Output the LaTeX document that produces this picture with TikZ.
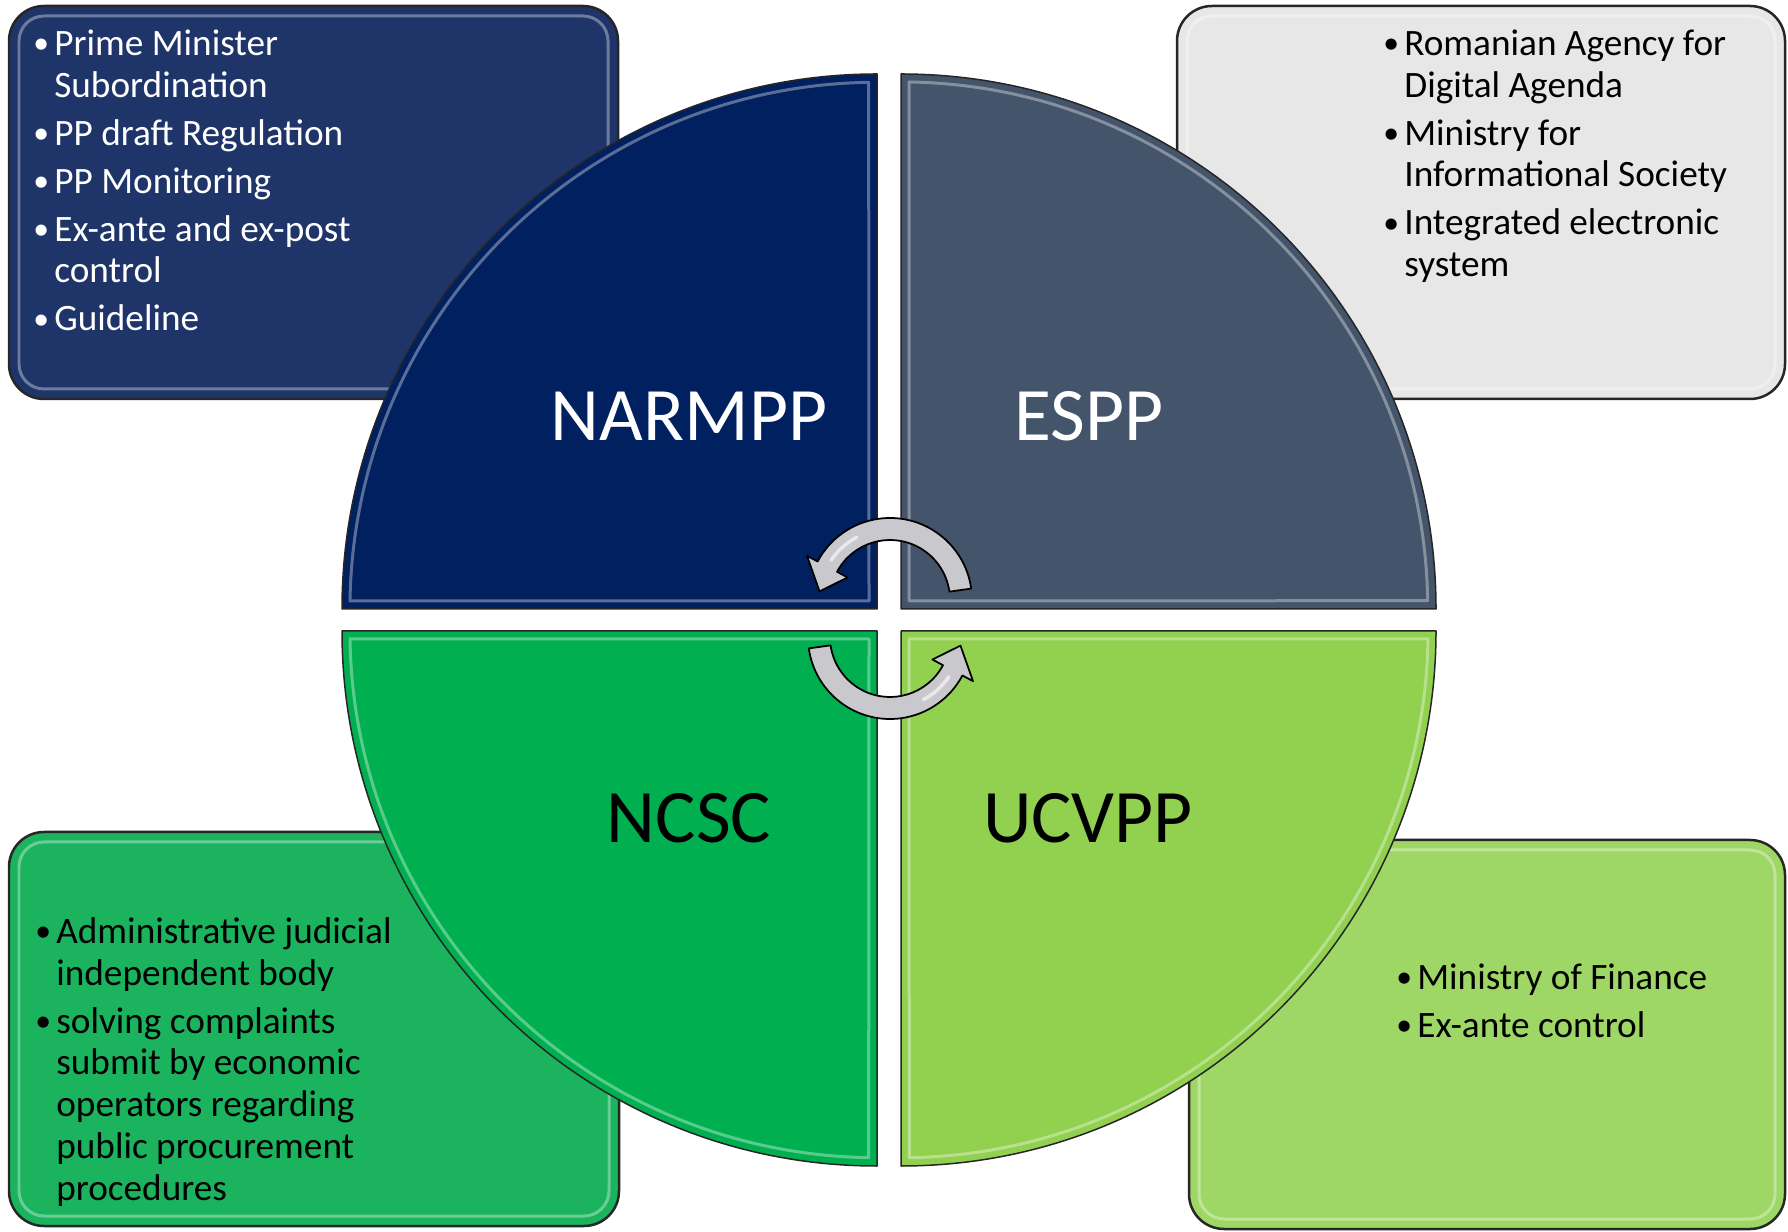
\documentclass[tikz,border=0pt]{standalone}
\usepackage{fontspec}
\setmainfont{Carlito}
\definecolor{navyq}{HTML}{002060}
\definecolor{slateq}{HTML}{44546A}
\definecolor{greenq}{HTML}{00B050}
\definecolor{limeq}{HTML}{92D050}
\definecolor{navybox}{HTML}{1F3569}
\definecolor{greybox}{HTML}{E7E7E7}
\definecolor{greenbox}{HTML}{1BB35E}
\definecolor{limebox}{HTML}{9ED765}
\definecolor{arrowgrey}{HTML}{C9C9CD}
\newcommand{\itm}[1]{\par\hangindent=0.42cm\hangafter=1\noindent\strut\makebox[0.42cm][l]{\raisebox{0.1ex}{\fontsize{18}{18}\selectfont\textbullet}}#1\par}

\begin{document}
\begin{tikzpicture}[x=0.02cm, y=0.02cm, line join=round,
    boxframe/.style={draw=black!85, line width=0.05cm, rounded corners=0.7cm},
    quarter/.style={draw=black!85, line width=0.03cm},
    bevel/.style={draw=white, opacity=0.35, line width=0.06cm},
    boxtext/.style={anchor=north west, inner sep=0pt, text width=8.5cm, align=flush left,
        font=\fontsize{21.2}{23.8}\selectfont\setlength{\parskip}{3.5pt}},
    bigtext/.style={inner sep=0pt, font=\fontsize{43}{50}\selectfont},
    cyclearrow/.style={draw=black, line width=0.035cm, fill=arrowgrey}]

    \useasboundingbox (0,0) rectangle (1788,1231);

    % boxes behind the circle
    \draw[boxframe, fill=navybox] (9,832) rectangle (618,1225);
    \draw[boxframe, fill=greybox] (1177,832) rectangle (1785,1225);
    \draw[boxframe, fill=greenbox] (9,5) rectangle (619,399);
    \draw[boxframe, fill=limebox] (1189,2) rectangle (1785,391);

    \draw[bevel, rounded corners=0.5cm] (19,842) rectangle (608,1215);
    \draw[bevel, rounded corners=0.5cm] (1187,842) rectangle (1775,1215);
    \draw[bevel, rounded corners=0.5cm] (19,15) rectangle (609,389);
    \draw[bevel, rounded corners=0.5cm] (1199,12) rectangle (1775,381);

    % the four quarters
    \draw[quarter, fill=navyq] (877,622) -- (342,622) arc[start angle=180, end angle=90, radius=535] -- cycle;
    \draw[quarter, fill=slateq] (901,622) -- (901,1157) arc[start angle=90, end angle=0, radius=535] -- cycle;
    \draw[quarter, fill=greenq] (877,600) -- (342,600) arc[start angle=180, end angle=270, radius=535] -- cycle;
    \draw[quarter, fill=limeq] (901,600) -- (1436,600) arc[start angle=0, end angle=-90, radius=535] -- cycle;

    \draw[bevel] (869,630) -- (350,630) arc[start angle=179.1, end angle=90.9, radius=527] -- cycle;
    \draw[bevel] (909,630) -- (909,1149) arc[start angle=89.1, end angle=0.9, radius=527] -- cycle;
    \draw[bevel] (869,592) -- (350,592) arc[start angle=180.9, end angle=269.1, radius=527] -- cycle;
    \draw[bevel] (909,592) -- (1428,592) arc[start angle=-0.9, end angle=-89.1, radius=527] -- cycle;

    % names
    \node[bigtext, text=white] (narmpp) at (689,815) {NARMPP};
    \node[bigtext, text=white] (espp) at (1089,815) {ESPP};
    \node[bigtext] (ncsc) at (689,413) {NCSC};
    \node[bigtext] (ucvpp) at (1088,413) {UCVPP};

    % lists
    \node[boxtext, text=white] (narmppinfo) at (33,1224)
        {\itm{Prime Minister\newline Subordination}\itm{PP draft Regulation}\itm{PP Monitoring}\itm{Ex-ante and ex-post\newline control}\itm{Guideline}};
    \node[boxtext] (esppinfo) at (1383,1224)
        {\itm{Romanian Agency for\newline Digital Agenda}\itm{Ministry for\newline Informational Society}\itm{Integrated electronic\newline system}};
    \node[boxtext] (ncscinfo) at (35,336)
        {\itm{Administrative judicial\newline independent body}\itm{solving complaints\newline submit by economic\newline operators regarding\newline public procurement\newline procedures}};
    \node[boxtext] (ucvppinfo) at (1396,290)
        {\itm{Ministry of Finance}\itm{Ex-ante control}};

    % turning arrows
    \coordinate (topturn) at (890,631);
    \coordinate (lowturn) at (890,594);
    \draw[cyclearrow, shift={(topturn)}] (8:82) arc[start angle=8, end angle=152, radius=82]
        -- (152:94) -- (173:71) -- (152:48) -- (152:60) arc[start angle=152, end angle=8, radius=60] -- cycle;
    \draw[cyclearrow, shift={(lowturn)}] (188:82) arc[start angle=188, end angle=332, radius=82]
        -- (332:94) -- (353:71) -- (332:48) -- (332:60) arc[start angle=332, end angle=188, radius=60] -- cycle;
    \draw[white, opacity=0.6, line width=0.07cm, line cap=round, shift={(topturn)}] (118:71) arc[start angle=118, end angle=146, radius=71];
    \draw[white, opacity=0.6, line width=0.07cm, line cap=round, shift={(lowturn)}] (298:71) arc[start angle=298, end angle=326, radius=71];

\end{tikzpicture}
\end{document}
